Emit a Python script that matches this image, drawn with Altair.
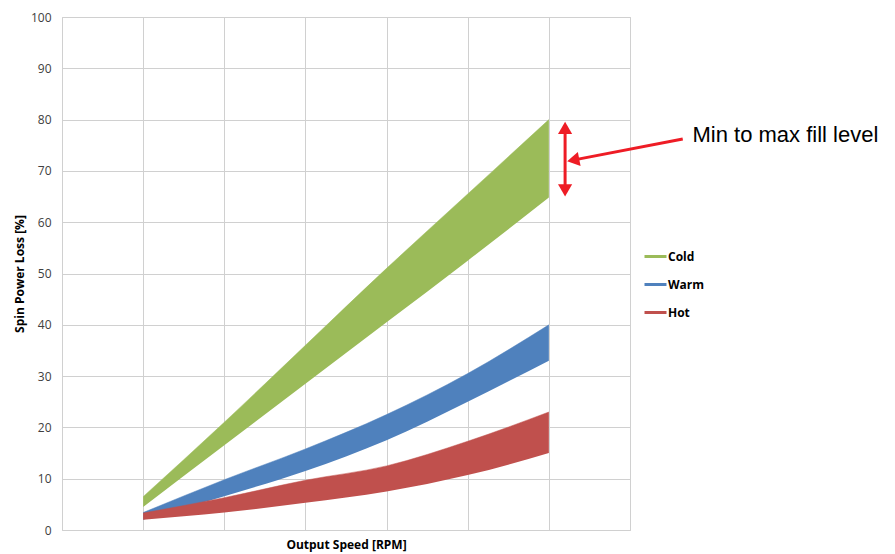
import altair as alt
import pandas as pd

# ---- data ----
speed = [1, 2, 3, 4, 5, 6]
series = ["Cold", "Warm", "Hot"]
cold_min = [4.5, 16.5, 28.5, 40.5, 52.5, 64.8]
cold_max = [6.5, 21.0, 36.0, 51.0, 65.5, 80.0]
warm_min = [2.0, 6.6, 11.5, 17.5, 25.0, 33.0]
warm_max = [3.4, 9.8, 15.8, 22.5, 30.5, 40.0]
hot_min = [2.0, 3.4, 5.3, 7.5, 10.7, 15.0]
hot_max = [3.3, 6.3, 9.7, 12.5, 17.3, 23.0]
colors = ["#9BBB59", "#4F81BD", "#C0504D"]
y_ticks = list(range(0, 101, 10))
x_grid = list(range(0, 8))

rows = []
for name, lo, hi in [("Cold", cold_min, cold_max), ("Warm", warm_min, warm_max), ("Hot", hot_min, hot_max)]:
    for s, a, b in zip(speed, lo, hi):
        rows.append({"speed": s, "series": name, "legend_name": name, "lo": a, "hi": b})
df = pd.DataFrame(rows)

FONT = "Open Sans"
ARROW = "#EE1C25"

xscale = alt.Scale(domain=[0, 7], nice=False, zero=False)
yscale = alt.Scale(domain=[0, 100], nice=False)
cscale = alt.Scale(domain=series, range=colors)

xaxis = alt.Axis(values=x_grid, labels=False, ticks=False, domain=False, grid=True,
                 title="Output Speed [RPM]", titleFontWeight="bold", titleFontSize=12,
                 titleFont=FONT, titleColor="#000000", titlePadding=9)
yaxis = alt.Axis(values=y_ticks, ticks=False, domain=False, grid=True,
                 labelFont=FONT, labelFontSize=12, labelColor="#404040", labelPadding=11,
                 title="Spin Power Loss [%]", titleFontWeight="bold", titleFontSize=12,
                 titleFont=FONT, titleColor="#000000", titlePadding=4)

base = alt.Chart(df)

areas = base.mark_area(interpolate="monotone", opacity=1).encode(
    x=alt.X("speed:Q", scale=xscale, axis=xaxis),
    y=alt.Y("lo:Q", scale=yscale, axis=yaxis),
    y2="hi:Q",
    fill=alt.Fill("series:N", scale=cscale, legend=None),
)

lines = base.mark_line(interpolate="monotone", strokeWidth=0.5).encode(
    x=alt.X("speed:Q", scale=xscale),
    y=alt.Y("hi:Q", scale=yscale),
    stroke=alt.Stroke("legend_name:N", scale=alt.Scale(domain=series, range=colors), sort=series,
                      legend=alt.Legend(title=None, orient="none", legendX=581, legendY=227,
                                        symbolType="stroke", symbolStrokeWidth=3, symbolSize=484,
                                        labelFont=FONT, labelFontWeight="bold", labelFontSize=12,
                                        labelColor="#000000", rowPadding=9, labelOffset=0)),
)

# annotation: double arrow, pointer arrow and text
dbl = pd.DataFrame({"x": [6.2], "y1": [78.4], "y2": [66.3]})
dbl_rule = alt.Chart(dbl).mark_rule(color=ARROW, strokeWidth=3).encode(
    x=alt.X("x:Q", scale=xscale), y=alt.Y("y1:Q", scale=yscale), y2="y2:Q")
heads = pd.DataFrame({"x": [6.2, 6.2], "y": [78.4, 66.2], "shape": ["triangle-up", "triangle-down"]})
dbl_heads = alt.Chart(heads).mark_point(filled=True, color=ARROW, size=200, opacity=1).encode(
    x=alt.X("x:Q", scale=xscale), y=alt.Y("y:Q", scale=yscale),
    shape=alt.Shape("shape:N", scale=None))

ptr = pd.DataFrame({"x": [7.65], "y": [76.2], "x2": [6.33], "y2": [72.2]})
ptr_rule = alt.Chart(ptr).mark_rule(color=ARROW, strokeWidth=3).encode(
    x=alt.X("x:Q", scale=xscale), y=alt.Y("y:Q", scale=yscale), x2="x2:Q", y2="y2:Q")
ptr_head = alt.Chart(pd.DataFrame({"x": [6.3], "y": [72.1]})).mark_point(
    filled=True, color=ARROW, size=200, opacity=1, shape="triangle-left", angle=349).encode(
    x=alt.X("x:Q", scale=xscale), y=alt.Y("y:Q", scale=yscale))

label = alt.Chart(pd.DataFrame({"x": [7.77], "y": [77.0], "t": ["Min to max fill level"]})).mark_text(
    align="left", baseline="middle", font="Liberation Sans", fontSize=22, color="#000000").encode(
    x=alt.X("x:Q", scale=xscale), y=alt.Y("y:Q", scale=yscale), text="t:N")

chart = alt.layer(areas, lines, dbl_rule, dbl_heads, ptr_rule, ptr_head, label).properties(
    width=568, height=513,
    padding={"left": 54, "top": 9, "right": 257, "bottom": 28},
    autosize=alt.AutoSizeParams(type="none"),
).resolve_scale(fill="independent", stroke="independent").configure_axis(
    gridColor="#D0D0D0", gridWidth=1
).configure_view(stroke="#D0D0D0")

chart.save("out.html", embed_options={"renderer": "svg", "actions": False})
